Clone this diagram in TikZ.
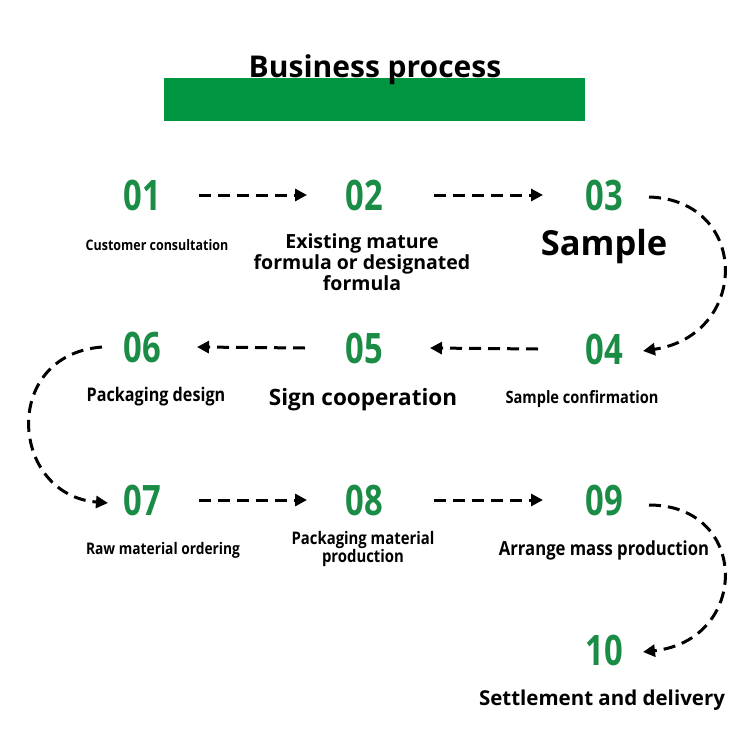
\documentclass[tikz,border=0pt]{standalone}
\usepackage{fontspec}
\setmainfont{Open Sans}[BoldFont={Open Sans Bold}]
\newfontfamily\numfont{Open Sans}[FakeStretch=0.78, BoldFont={Open Sans Bold}, BoldFeatures={FakeStretch=0.78}]
\newfontfamily\labfont{Open Sans}[FakeStretch=0.86, BoldFont={Open Sans Bold}, BoldFeatures={FakeStretch=0.86}]
\usetikzlibrary{arrows.meta}
\definecolor{barg}{RGB}{0,150,64}
\definecolor{numg}{RGB}{26,140,70}
\tikzset{
  num/.style={text=numg, font=\numfont\bfseries\fontsize{42}{42}\selectfont, inner sep=0pt},
  lab/.style={font=\labfont\bfseries\fontsize{#1}{#1}\selectfont, inner sep=0pt, align=center},
  flow/.style={line width=3pt, dash pattern=on 12pt off 7pt, -{Triangle[length=12pt,width=12pt]}}
}
\begin{document}
\begin{tikzpicture}[x=1pt,y=-1pt]
\useasboundingbox (0,0) rectangle (750,750);
\fill[barg] (164,78) rectangle (585,121);
\node[font=\bfseries\fontsize{30}{30}\selectfont, inner sep=0pt] (title) at (375,70) {Business process};

\node[num] (n01) at (142,195) {01};
\node[num] (n02) at (364,195) {02};
\node[num] (n03) at (604,195) {03};
\node[num] (n04) at (604,349) {04};
\node[num] (n05) at (364,348) {05};
\node[num] (n06) at (142,347) {06};
\node[num] (n07) at (142,500) {07};
\node[num] (n08) at (364,500) {08};
\node[num] (n09) at (604,500) {09};
\node[num] (n10) at (604,650) {10};

\node[lab=14.5] (l01) at (157,245) {Customer consultation};
\node[lab=19, font=\bfseries\fontsize{19.5}{21}\selectfont] (l02) at (362,262) {Existing mature\\formula or designated\\formula};
\node[font=\bfseries\fontsize{34.5}{34.5}\selectfont, inner sep=0pt] (l03) at (604,247) {Sample};
\node[lab=17] (l04) at (582,399) {Sample confirmation};
\node[font=\bfseries\fontsize{22.5}{22.5}\selectfont, inner sep=0pt] (l05) at (363,400) {Sign cooperation};
\node[lab=18.8] (l06) at (156,397) {Packaging design};
\node[lab=16] (l07) at (163,550) {Raw material ordering};
\node[lab=17.3, font=\labfont\bfseries\fontsize{17.3}{15.5}\selectfont] (l08) at (363,549) {Packaging material\\production};
\node[lab=19.4] (l09) at (604,550) {Arrange mass production};
\node[font=\bfseries\fontsize{20.5}{20.5}\selectfont, inner sep=0pt] (l10) at (602,700) {Settlement and delivery};

\draw[flow] ([xshift=57]n01.center) -- ([xshift=-57]n02.center);
\draw[flow] ([xshift=70]n02.center) -- ([xshift=-61]n03.center);
\draw[flow] ([xshift=-66]n04.center) -- ([xshift=66]n05.center);
\draw[flow] ([xshift=-59]n05.center) -- ([xshift=55]n06.center);
\draw[flow] ([xshift=57]n07.center) -- ([xshift=-57]n08.center);
\draw[flow] ([xshift=70]n08.center) -- ([xshift=-61]n09.center);

\draw[flow] ([xshift=45,yshift=-2]n03.center) .. controls (750,200) and (750,335) .. ([xshift=39,yshift=-2]n04.center);
\draw[flow] ([xshift=-40]n06.center) .. controls (0,355) and (10,495) .. ([xshift=-34,yshift=-3]n07.center);
\draw[flow] ([xshift=45,yshift=-5]n09.center) .. controls (750,505) and (750,640) .. ([xshift=39,yshift=-2]n10.center);
\end{tikzpicture}
\end{document}
